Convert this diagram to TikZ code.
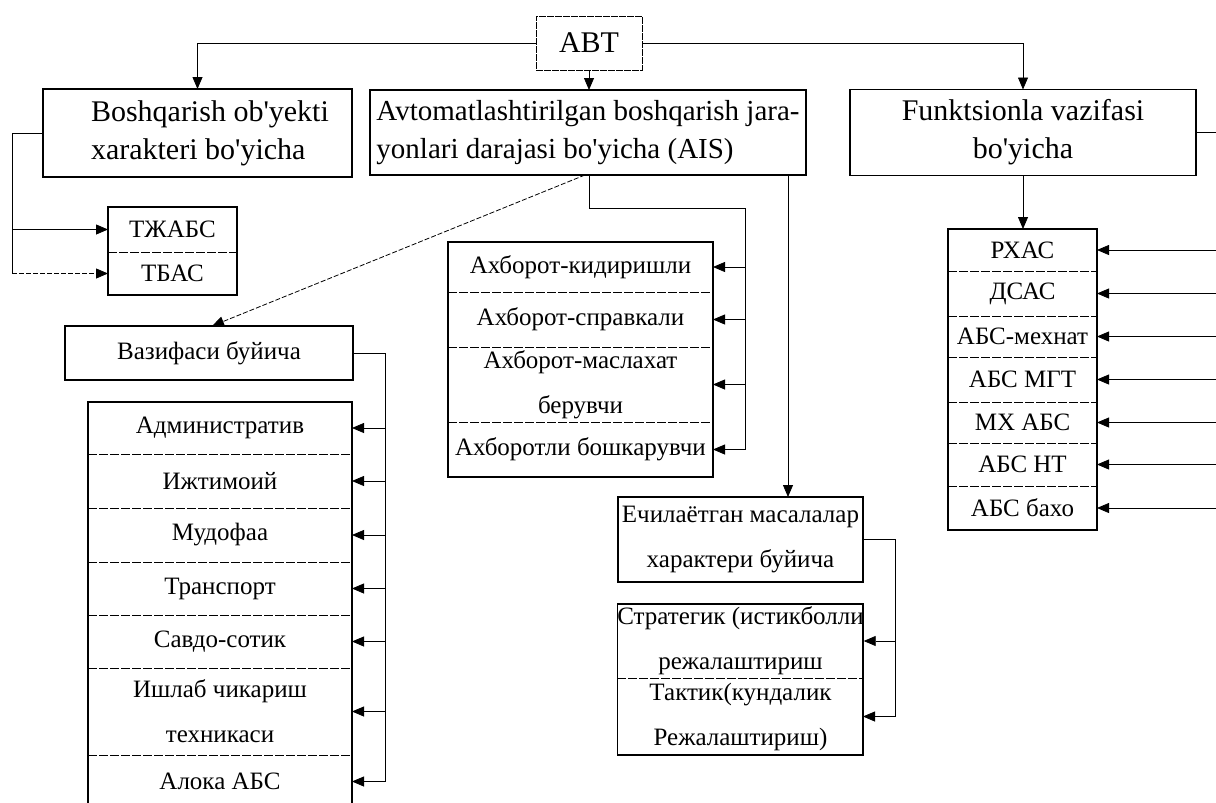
\documentclass[tikz,border=0pt]{standalone}
\usepackage{fontspec}
\setmainfont{Liberation Serif}
\usetikzlibrary{arrows.meta}
\newcommand{\apos}{\textquotesingle}
\begin{document}
\begin{tikzpicture}[x=1pt,y=-1pt,
  every node/.style={inner sep=0pt,outer sep=0pt},
  topbox/.style={draw,line width=1.8pt,font=\fontsize{30}{38}\selectfont},
  toptext/.style={font=\fontsize{30}{38}\selectfont,align=left},
  itm/.style={font=\fontsize{25}{45}\selectfont,align=center},
  frame/.style={line width=1.5pt},
  divl/.style={line width=0.7pt,dash pattern=on 9pt off 2pt},
  conn/.style={line width=0.8pt},
  arr/.style={conn,-{Triangle[length=12pt,width=10pt]}},
  darr/.style={arr,dash pattern=on 5pt off 2pt},
]
\useasboundingbox (0,0) rectangle (1216,803);
\fill[white] (0,0) rectangle (1216,803);

% root
\node[draw,line width=0.9pt,dash pattern=on 7pt off 1pt,minimum width=106pt,minimum height=54pt,
      font=\fontsize{30}{36}\selectfont] (abt) at (589,43) {ABT};

% top level
\node[topbox,minimum width=309pt,minimum height=88pt] (obj) at (197.5,133) {};
\node[toptext,anchor=west] (objt) at (91,133) {Boshqarish ob\apos yekti\\xarakteri bo\apos yicha};
\node[topbox,minimum width=436pt,minimum height=85pt,align=left,font=\fontsize{29}{38}\selectfont] (ais) at (588,132.5)
  {Avtomatlashtirilgan boshqarish jara-\\yonlari darajasi bo\apos yicha (AIS)};
\node[topbox,minimum width=346pt,minimum height=86pt,align=center] (fun) at (1023,132.5)
  {Funktsionla vazifasi\\bo\apos yicha};

\draw[arr] (abt.west) -| (obj.north);
\draw[arr] (abt.south) -- (abt.south |- ais.north);
\draw[arr] (abt.east) -| (fun.north);

% TJABS / TBAS
\node[itm,minimum width=129pt,minimum height=45pt] (tj) at (172.5,229.5) {ТЖАБС};
\node[itm,minimum width=129pt,minimum height=43pt] (tb) at (172.5,273.5) {ТБАС};
\draw[frame] (tj.north west) rectangle (tb.south east);
\draw[divl] (tj.south west) -- (tj.south east);
\coordinate (lv) at (12,133);
\draw[conn] (obj.west) -- (lv) -- (lv |- tb.west);
\draw[arr] (lv |- tj.west) -- (tj.west);
\draw[darr] (lv |- tb.west) -- (tb.west);

% Vazifasi
\node[draw,frame,itm,minimum width=288pt,minimum height=54pt] (vaz) at (209,353) {Вазифаси буйича};
\draw[darr] ([xshift=-3pt]ais.south) -- ([xshift=3pt]vaz.north);

\node[itm,minimum width=264pt,minimum height=52pt] (adm) at (220,428) {Административ};
\node[itm,minimum width=264pt,minimum height=54pt] (ijt) at (220,481) {Ижтимоий};
\node[itm,minimum width=264pt,minimum height=54pt] (mud) at (220,535) {Мудофаа};
\node[itm,minimum width=264pt,minimum height=53pt] (tra) at (220,588.5) {Транспорт};
\node[itm,minimum width=264pt,minimum height=53pt] (sav) at (220,641.5) {Савдо-сотик};
\node[itm,minimum width=264pt,minimum height=87pt] (ish) at (220,711.5) {Ишлаб чикариш\\техникаси};
\node[itm,minimum width=264pt,minimum height=53pt] (alo) at (220,781.5) {Алока АБС};
\draw[frame] (adm.north west) rectangle (alo.south east);
\foreach \n in {adm,ijt,mud,tra,sav,ish}{\draw[divl] (\n.south west) -- (\n.south east);}
\coordinate (vv) at (385,353);
\draw[conn] (vaz.east) -- (vv) -- (vv |- alo.east);
\foreach \n in {adm,ijt,mud,tra,sav,ish,alo}{\draw[arr] (vv |- \n.east) -- (\n.east);}

% Axborot
\node[itm,minimum width=265pt,minimum height=50pt] (ak) at (580.5,267) {Ахборот-кидиришли};
\node[itm,minimum width=265pt,minimum height=55pt] (as) at (580.5,319.5) {Ахборот-справкали};
\node[itm,minimum width=265pt,minimum height=75pt] (am) at (580.5,384.5) {Ахборот-маслахат\\берувчи};
\node[itm,minimum width=265pt,minimum height=55pt] (ab) at (580.5,449.5) {Ахборотли бошкарувчи};
\draw[frame] (ak.north west) rectangle (ab.south east);
\foreach \n in {ak,as,am}{\draw[divl] (\n.south west) -- (\n.south east);}
\coordinate (ah1) at (589,208);
\coordinate (ah2) at (745,208);
\draw[conn] (ais.south -| ah1) -- (ah1) -- (ah2) -- (ah2 |- ab.east);
\foreach \n in {ak,as,am,ab}{\draw[arr] (ah2 |- \n.east) -- (\n.east);}

% Echilayotgan
\node[draw,frame,itm,minimum width=245pt,minimum height=85pt] (ech) at (740.5,539.5)
  {Ечилаётган масалалар\\характери буйича};
\coordinate (ex) at (788,0);
\draw[arr] (ais.south -| ex) -- (ech.north -| ex);
\node[itm,minimum width=245pt,minimum height=74pt] (st) at (740.5,641) {Стратегик (истикболли\\режалаштириш};
\node[itm,minimum width=245pt,minimum height=77pt] (tk) at (740.5,716.5) {Тактик(кундалик\\Режалаштириш)};
\draw[frame] (st.north west) rectangle (tk.south east);
\draw[divl] (st.south west) -- (st.south east);
\coordinate (ec) at (895,539.5);
\draw[conn] (ech.east) -- (ec) -- (ec |- tk.east);
\foreach \n in {st,tk}{\draw[arr] (ec |- \n.east) -- (\n.east);}

% right column
\node[itm,minimum width=149pt,minimum height=42pt] (r1) at (1022.5,250) {РХАС};
\node[itm,minimum width=149pt,minimum height=45pt] (r2) at (1022.5,293.5) {ДСАС};
\node[itm,minimum width=149pt,minimum height=41pt] (r3) at (1022.5,336.5) {АБС-мехнат};
\node[itm,minimum width=149pt,minimum height=45pt] (r4) at (1022.5,379.5) {АБС МГТ};
\node[itm,minimum width=149pt,minimum height=41pt] (r5) at (1022.5,422.5) {МХ АБС};
\node[itm,minimum width=149pt,minimum height=43pt] (r6) at (1022.5,464.5) {АБС НТ};
\node[itm,minimum width=149pt,minimum height=44pt] (r7) at (1022.5,508) {АБС бахо};
\draw[frame] (r1.north west) rectangle (r7.south east);
\foreach \n in {r1,r2,r3,r4,r5,r6}{\draw[divl] (\n.south west) -- (\n.south east);}
\draw[arr] (fun.south) -- (fun.south |- r1.north);
\coordinate (rv) at (1222,132.5);
\draw[conn] (fun.east) -- (rv) -- (rv |- r7.east);
\foreach \n in {r1,r2,r3,r4,r5,r6,r7}{\draw[arr] (rv |- \n.east) -- (\n.east);}
\end{tikzpicture}
\end{document}
